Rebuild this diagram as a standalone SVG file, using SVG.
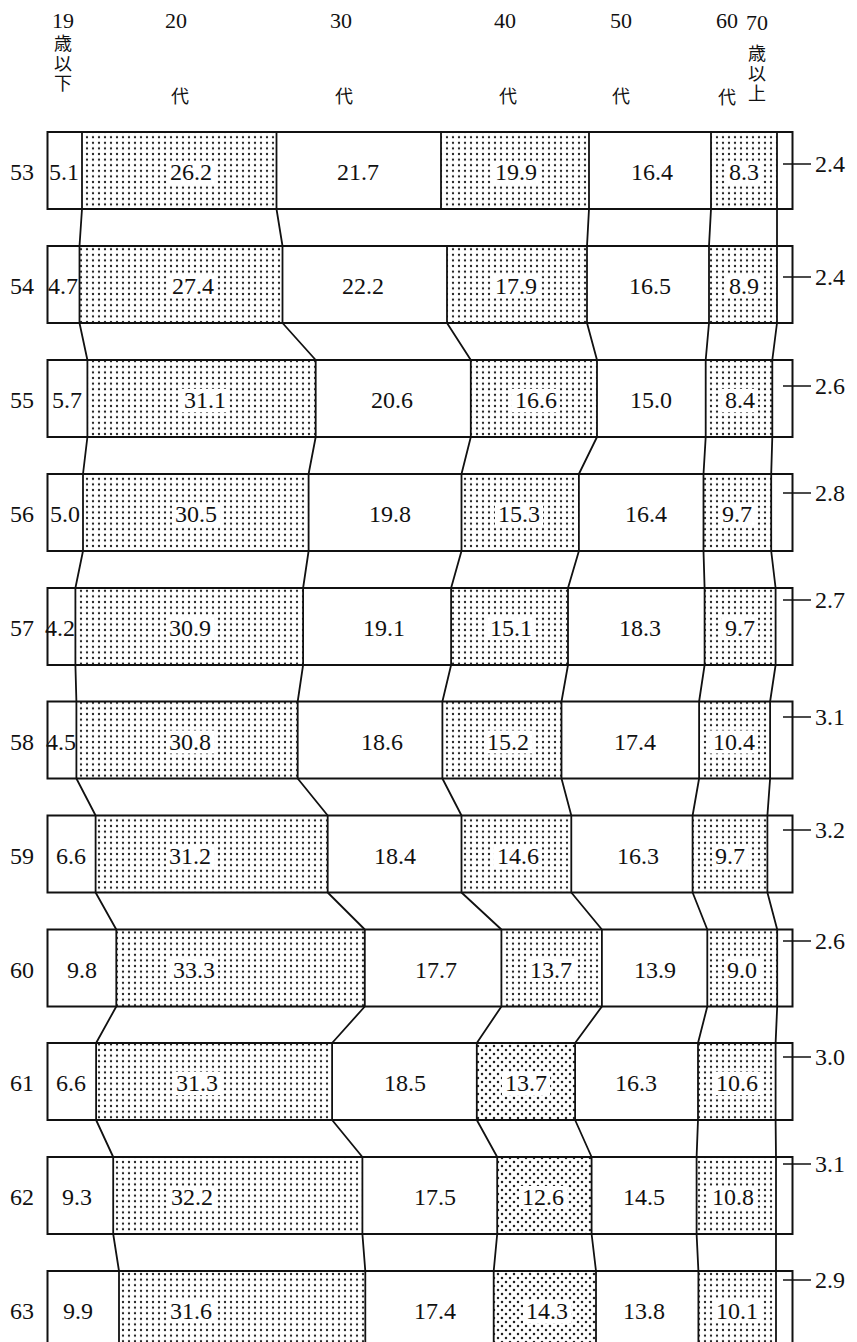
<svg xmlns="http://www.w3.org/2000/svg" width="857" height="1342" viewBox="0 0 857 1342">
<style>
.bg{fill:#fff}
.bar{fill:none;stroke:#111;stroke-width:2}
.div{fill:none;stroke:#111;stroke-width:1.8}
.d{fill:url(#dots)}
.d2{fill:url(#dots2)}
.w{fill:#fff}
text{font-family:"Liberation Serif","Times New Roman",serif;font-size:24px;fill:#111;text-anchor:middle}
.rl{text-anchor:start}
.hd{font-size:22px}
.cj{font-family:"Noto Sans CJK JP","Noto Sans CJK SC",sans-serif;font-size:18px}
.vt{writing-mode:vertical-rl;text-anchor:start;letter-spacing:2px}
.con{fill:none;stroke:#111;stroke-width:1.8}
.tick{stroke:#111;stroke-width:1.5}
</style>
<defs>
<pattern id="dots" width="6" height="5.6" patternUnits="userSpaceOnUse"><rect width="6" height="5.6" fill="#fff"/><circle cx="3" cy="2.8" r="1.15" fill="#222"/></pattern>
<pattern id="dots2" width="8" height="8" patternUnits="userSpaceOnUse"><rect width="8" height="8" fill="#fff"/><circle cx="2" cy="2" r="1.25" fill="#222"/><circle cx="6" cy="6" r="1.25" fill="#222"/></pattern>
</defs>
<rect width="857" height="1342" fill="#fff"/>

<g id="header">
<text class="hd" x="63" y="28">19</text>
<text class="cj vt" x="63" y="34">歳以下</text>
<text class="hd" x="176" y="28">20</text>
<text class="cj" x="180" y="103">代</text>
<text class="hd" x="341" y="28">30</text>
<text class="cj" x="344" y="103">代</text>
<text class="hd" x="505" y="28">40</text>
<text class="cj" x="508" y="103">代</text>
<text class="hd" x="621" y="28">50</text>
<text class="cj" x="621" y="103">代</text>
<text class="hd" x="727" y="28">60</text>
<text class="cj" x="727" y="104">代</text>
<text class="hd" x="757" y="30">70</text>
<text class="cj vt" x="757" y="44">歳以上</text>
</g>

<g id="connectors">
<path class="con" d="M82 209L79.5 246M276.5 209L282.5 246M589 209L587 246M711 209L709 246M777 209L777 246
M79.5 323L87.4 360M282.5 323L315.7 360M447 323L470.8 360M587 323L597 360M709 323L705.7 360M777 323L772.3 360
M87.4 437L83 474M315.7 437L308.6 474M470.8 437L461.5 474M597 437L578.9 474M705.7 437L703.5 474M772.3 437L771.2 474
M83 551L75.4 588M308.6 551L303.1 588M461.5 551L451.1 588M578.9 551L568 588M703.5 551L704.6 588M771.2 551L775.6 588
M75.4 665L76.4 701.5M303.1 665L297.7 701.5M451.1 665L442.4 701.5M568 665L561.5 701.5M704.6 665L699.1 701.5M775.6 665L770.1 701.5
M76.4 778.5L95.6 815.5M297.7 778.5L327.7 815.5M442.4 778.5L461.5 815.5M561.5 778.5L571.3 815.5M699.1 778.5L692.6 815.5M770.1 778.5L767.4 815.5
M95.6 892.5L116.3 929.5M327.7 892.5L364.8 929.5M461.5 892.5L501.4 929.5M571.3 892.5L601.9 929.5M692.6 892.5L707.3 929.5M767.4 892.5L777.2 929.5
M116.3 1006.5L96.1 1043M364.8 1006.5L332.1 1043M501.4 1006.5L476.8 1043M601.9 1006.5L575.1 1043M707.3 1006.5L698 1043M777.2 1006.5L775.6 1043
M96.1 1120L113.2 1157M332.1 1120L362.4 1157M476.8 1120L497.2 1157M575.1 1120L591.6 1157M698 1120L696.6 1157M775.6 1120L776 1157
M113.2 1234L119 1271M362.4 1234L365.3 1271M497.2 1234L493.7 1271M591.6 1234L596 1271M696.6 1234L698.4 1271M776 1234L776 1271"/>
</g>

<g id="row-53">
<rect class="d" x="82" y="132" width="194.5" height="77"/><rect class="d" x="441" y="132" width="148" height="77"/><rect class="d" x="711" y="132" width="66" height="77"/>
<path class="div" d="M82 132V209M276.5 132V209M441 132V209M589 132V209M711 132V209M777 132V209"/>
<rect class="bar" x="47.5" y="132" width="745" height="77"/>
<rect class="w" x="167" y="161" width="48" height="23"/><rect class="w" x="492" y="161" width="48" height="23"/><rect class="w" x="726" y="161" width="36" height="23"/>
<text x="22" y="180">53</text><text x="64" y="180">5.1</text><text x="191" y="180">26.2</text><text x="358" y="180">21.7</text><text x="516" y="180">19.9</text><text x="652" y="180">16.4</text><text x="744" y="180">8.3</text>
<line class="tick" x1="783" y1="164" x2="811" y2="164"/><text class="rl" x="815" y="172">2.4</text>
</g>

<g id="row-54">
<rect class="d" x="79.5" y="246" width="203" height="77"/><rect class="d" x="447" y="246" width="140" height="77"/><rect class="d" x="709" y="246" width="68" height="77"/>
<path class="div" d="M79.5 246V323M282.5 246V323M447 246V323M587 246V323M709 246V323M777 246V323"/>
<rect class="bar" x="47.5" y="246" width="745" height="77"/>
<rect class="w" x="169" y="275" width="48" height="23"/><rect class="w" x="492" y="275" width="48" height="23"/><rect class="w" x="726" y="275" width="36" height="23"/>
<text x="22" y="294">54</text><text x="63" y="294">4.7</text><text x="193" y="294">27.4</text><text x="363" y="294">22.2</text><text x="516" y="294">17.9</text><text x="650" y="294">16.5</text><text x="744" y="294">8.9</text>
<line class="tick" x1="783" y1="277" x2="811" y2="277"/><text class="rl" x="815" y="285">2.4</text>
</g>

<g id="row-55">
<rect class="d" x="87.4" y="360" width="228.3" height="77"/><rect class="d" x="470.8" y="360" width="126.2" height="77"/><rect class="d" x="705.7" y="360" width="66.6" height="77"/>
<path class="div" d="M87.4 360V437M315.7 360V437M470.8 360V437M597 360V437M705.7 360V437M772.3 360V437"/>
<rect class="bar" x="47.5" y="360" width="745" height="77"/>
<rect class="w" x="181" y="389" width="48" height="23"/><rect class="w" x="512" y="389" width="48" height="23"/><rect class="w" x="722" y="389" width="36" height="23"/>
<text x="22" y="408">55</text><text x="67" y="408">5.7</text><text x="205" y="408">31.1</text><text x="392" y="408">20.6</text><text x="536" y="408">16.6</text><text x="651" y="408">15.0</text><text x="740" y="408">8.4</text>
<line class="tick" x1="783" y1="386" x2="811" y2="386"/><text class="rl" x="815" y="394">2.6</text>
</g>

<g id="row-56">
<rect class="d" x="83" y="474" width="225.6" height="77"/><rect class="d" x="461.5" y="474" width="117.4" height="77"/><rect class="d" x="703.5" y="474" width="67.7" height="77"/>
<path class="div" d="M83 474V551M308.6 474V551M461.5 474V551M578.9 474V551M703.5 474V551M771.2 474V551"/>
<rect class="bar" x="47.5" y="474" width="745" height="77"/>
<rect class="w" x="172" y="503" width="48" height="23"/><rect class="w" x="495" y="503" width="48" height="23"/><rect class="w" x="719" y="503" width="36" height="23"/>
<text x="22" y="522">56</text><text x="65" y="522">5.0</text><text x="196" y="522">30.5</text><text x="390" y="522">19.8</text><text x="519" y="522">15.3</text><text x="646" y="522">16.4</text><text x="737" y="522">9.7</text>
<line class="tick" x1="783" y1="493" x2="811" y2="493"/><text class="rl" x="815" y="501">2.8</text>
</g>

<g id="row-57">
<rect class="d" x="75.4" y="588" width="227.7" height="77"/><rect class="d" x="451.1" y="588" width="116.9" height="77"/><rect class="d" x="704.6" y="588" width="71" height="77"/>
<path class="div" d="M75.4 588V665M303.1 588V665M451.1 588V665M568 588V665M704.6 588V665M775.6 588V665"/>
<rect class="bar" x="47.5" y="588" width="745" height="77"/>
<rect class="w" x="166" y="617" width="48" height="23"/><rect class="w" x="487" y="617" width="48" height="23"/><rect class="w" x="722" y="617" width="36" height="23"/>
<text x="22" y="636">57</text><text x="60" y="636">4.2</text><text x="190" y="636">30.9</text><text x="384" y="636">19.1</text><text x="511" y="636">15.1</text><text x="640" y="636">18.3</text><text x="740" y="636">9.7</text>
<line class="tick" x1="783" y1="600" x2="811" y2="600"/><text class="rl" x="815" y="608">2.7</text>
</g>

<g id="row-58">
<rect class="d" x="76.4" y="701.5" width="221.3" height="77"/><rect class="d" x="442.4" y="701.5" width="119.1" height="77"/><rect class="d" x="699.1" y="701.5" width="71" height="77"/>
<path class="div" d="M76.4 701.5V778.5M297.7 701.5V778.5M442.4 701.5V778.5M561.5 701.5V778.5M699.1 701.5V778.5M770.1 701.5V778.5"/>
<rect class="bar" x="47.5" y="701.5" width="745" height="77"/>
<rect class="w" x="166" y="730.5" width="48" height="23"/><rect class="w" x="484" y="730.5" width="48" height="23"/><rect class="w" x="710" y="730.5" width="48" height="23"/>
<text x="22" y="749.5">58</text><text x="61" y="749.5">4.5</text><text x="190" y="749.5">30.8</text><text x="382" y="749.5">18.6</text><text x="508" y="749.5">15.2</text><text x="635" y="749.5">17.4</text><text x="734" y="749.5">10.4</text>
<line class="tick" x1="783" y1="717" x2="811" y2="717"/><text class="rl" x="815" y="725">3.1</text>
</g>

<g id="row-59">
<rect class="d" x="95.6" y="815.5" width="232.1" height="77"/><rect class="d" x="461.5" y="815.5" width="109.8" height="77"/><rect class="d" x="692.6" y="815.5" width="74.8" height="77"/>
<path class="div" d="M95.6 815.5V892.5M327.7 815.5V892.5M461.5 815.5V892.5M571.3 815.5V892.5M692.6 815.5V892.5M767.4 815.5V892.5"/>
<rect class="bar" x="47.5" y="815.5" width="745" height="77"/>
<rect class="w" x="166" y="844.5" width="48" height="23"/><rect class="w" x="494" y="844.5" width="48" height="23"/><rect class="w" x="712" y="844.5" width="36" height="23"/>
<text x="22" y="863.5">59</text><text x="71" y="863.5">6.6</text><text x="190" y="863.5">31.2</text><text x="395" y="863.5">18.4</text><text x="518" y="863.5">14.6</text><text x="638" y="863.5">16.3</text><text x="730" y="863.5">9.7</text>
<line class="tick" x1="783" y1="830" x2="811" y2="830"/><text class="rl" x="815" y="838">3.2</text>
</g>

<g id="row-60">
<rect class="d" x="116.3" y="929.5" width="248.5" height="77"/><rect class="d" x="501.4" y="929.5" width="100.5" height="77"/><rect class="d" x="707.3" y="929.5" width="69.9" height="77"/>
<path class="div" d="M116.3 929.5V1006.5M364.8 929.5V1006.5M501.4 929.5V1006.5M601.9 929.5V1006.5M707.3 929.5V1006.5M777.2 929.5V1006.5"/>
<rect class="bar" x="47.5" y="929.5" width="745" height="77"/>
<rect class="w" x="170" y="958.5" width="48" height="23"/><rect class="w" x="527" y="958.5" width="48" height="23"/><rect class="w" x="724" y="958.5" width="36" height="23"/>
<text x="22" y="977.5">60</text><text x="82" y="977.5">9.8</text><text x="194" y="977.5">33.3</text><text x="436" y="977.5">17.7</text><text x="551" y="977.5">13.7</text><text x="655" y="977.5">13.9</text><text x="742" y="977.5">9.0</text>
<line class="tick" x1="783" y1="941" x2="811" y2="941"/><text class="rl" x="815" y="949">2.6</text>
</g>

<g id="row-61">
<rect class="d" x="96.1" y="1043" width="236" height="77"/><rect class="d2" x="476.8" y="1043" width="98.3" height="77"/><rect class="d" x="698" y="1043" width="77.6" height="77"/>
<path class="div" d="M96.1 1043V1120M332.1 1043V1120M476.8 1043V1120M575.1 1043V1120M698 1043V1120M775.6 1043V1120"/>
<rect class="bar" x="47.5" y="1043" width="745" height="77"/>
<rect class="w" x="173" y="1072" width="48" height="23"/><rect class="w" x="502" y="1072" width="48" height="23"/><rect class="w" x="713" y="1072" width="48" height="23"/>
<text x="22" y="1091">61</text><text x="71" y="1091">6.6</text><text x="197" y="1091">31.3</text><text x="405" y="1091">18.5</text><text x="526" y="1091">13.7</text><text x="636" y="1091">16.3</text><text x="737" y="1091">10.6</text>
<line class="tick" x1="783" y1="1057" x2="811" y2="1057"/><text class="rl" x="815" y="1065">3.0</text>
</g>

<g id="row-62">
<rect class="d" x="113.2" y="1157" width="249.2" height="77"/><rect class="d2" x="497.2" y="1157" width="94.4" height="77"/><rect class="d" x="696.6" y="1157" width="79.4" height="77"/>
<path class="div" d="M113.2 1157V1234M362.4 1157V1234M497.2 1157V1234M591.6 1157V1234M696.6 1157V1234M776 1157V1234"/>
<rect class="bar" x="47.5" y="1157" width="745" height="77"/>
<rect class="w" x="168" y="1186" width="48" height="23"/><rect class="w" x="519" y="1186" width="48" height="23"/><rect class="w" x="709" y="1186" width="48" height="23"/>
<text x="22" y="1205">62</text><text x="77" y="1205">9.3</text><text x="192" y="1205">32.2</text><text x="435" y="1205">17.5</text><text x="543" y="1205">12.6</text><text x="644" y="1205">14.5</text><text x="733" y="1205">10.8</text>
<line class="tick" x1="783" y1="1164" x2="811" y2="1164"/><text class="rl" x="815" y="1172">3.1</text>
</g>

<g id="row-63">
<rect class="d" x="119" y="1271" width="246.3" height="77"/><rect class="d2" x="493.7" y="1271" width="102.3" height="77"/><rect class="d" x="698.4" y="1271" width="77.6" height="77"/>
<path class="div" d="M119 1271V1348M365.3 1271V1348M493.7 1271V1348M596 1271V1348M698.4 1271V1348M776 1271V1348"/>
<rect class="bar" x="47.5" y="1271" width="745" height="77"/>
<rect class="w" x="167" y="1300" width="48" height="23"/><rect class="w" x="523" y="1300" width="48" height="23"/><rect class="w" x="713" y="1300" width="48" height="23"/>
<text x="22" y="1319">63</text><text x="78" y="1319">9.9</text><text x="191" y="1319">31.6</text><text x="435" y="1319">17.4</text><text x="547" y="1319">14.3</text><text x="644" y="1319">13.8</text><text x="737" y="1319">10.1</text>
<line class="tick" x1="783" y1="1280" x2="811" y2="1280"/><text class="rl" x="815" y="1288">2.9</text>
</g>
</svg>
